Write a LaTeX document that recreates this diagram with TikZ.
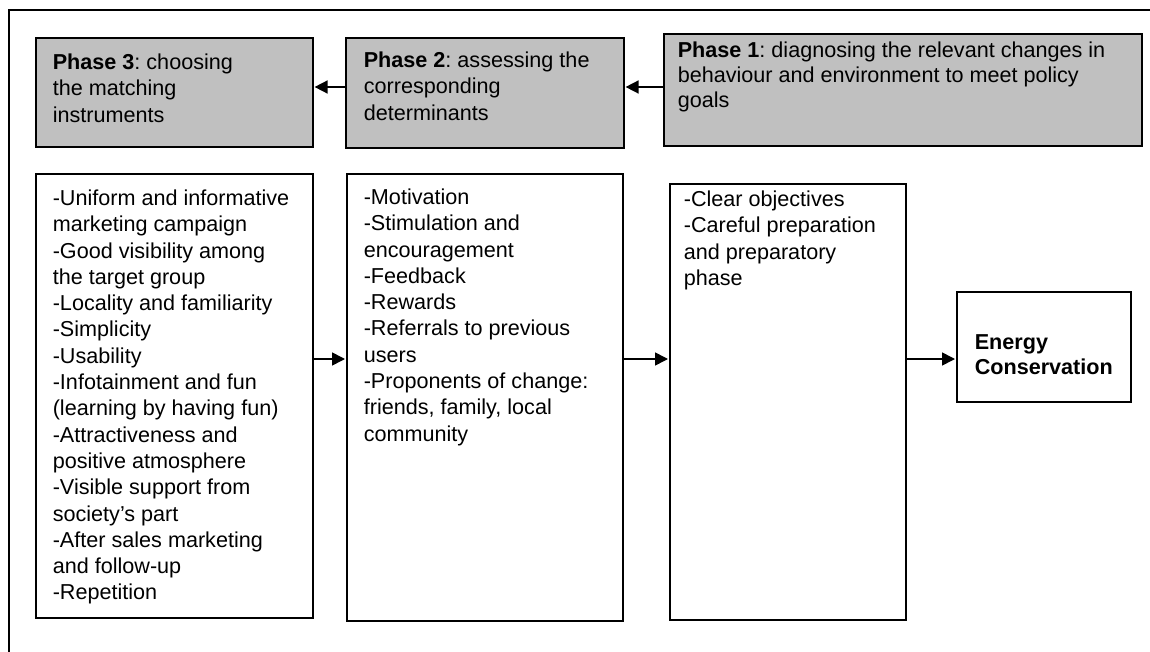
\documentclass[tikz,border=0pt]{standalone}
\usepackage{fontspec}
\setmainfont{Liberation Sans}
\usetikzlibrary{arrows.meta}
\definecolor{boxgray}{HTML}{C0C0C0}
\frenchspacing

\begin{document}
\begin{tikzpicture}[x=1pt,y=-1pt,line width=1.6pt,>={Triangle[length=13pt,width=13pt]},
		phase box/.style={draw,fill=boxgray,anchor=north west,inner sep=0pt},
		list box/.style={draw,fill=white,anchor=north west,inner sep=0pt},
		box text/.style={anchor=north west,inner sep=0pt,align=left,font=\fontsize{21.6}{26.3}\selectfont},
		flow/.style={->,shorten >=1pt}]
		
		\useasboundingbox (0,0) rectangle (1150,652);
		\draw (9,652) -- (9,10) -- (1150,10);
		
		% phases
		\node[phase box, minimum width=277pt, minimum height=109pt] (ph3) at (35,37) {};
		\node[phase box, minimum width=278pt, minimum height=110pt] (ph2) at (345,37) {};
		\node[phase box, minimum width=478pt, minimum height=112pt] (ph1) at (663,33) {};
		\node[box text] (ph3txt) at (52,53) {\textbf{Phase 3}: choosing\\the matching\\instruments};
		\node[box text] (ph2txt) at (363,51) {\textbf{Phase 2}: assessing the\\corresponding\\determinants};
		\node[box text, font=\fontsize{21.6}{25}\selectfont] (ph1txt) at (677,41) {\textbf{Phase 1}: diagnosing the relevant changes in\\behaviour and environment to meet policy\\goals};
		
		% lists
		\node[list box, minimum width=277pt, minimum height=444pt] (instr) at (35,173) {};
		\node[list box, minimum width=276pt, minimum height=447pt] (deter) at (346,173) {};
		\node[list box, minimum width=236pt, minimum height=436pt] (prep) at (669,183) {};
		\node[list box, minimum width=174pt, minimum height=110pt] (goal) at (956,291) {};
		\node[box text] (instrtxt) at (52,189) {-Uniform and informative\\marketing campaign\\-Good visibility among\\the target group\\-Locality and familiarity\\-Simplicity\\-Usability\\-Infotainment and fun\\(learning by having fun)\\-Attractiveness and\\positive atmosphere\\-Visible support from\\society's part\\-After sales marketing\\and follow-up\\-Repetition};
		\node[box text] (detertxt) at (363,188) {-Motivation\\-Stimulation and\\encouragement\\-Feedback\\-Rewards\\-Referrals to previous\\users\\-Proponents of change:\\friends, family, local\\community};
		\node[box text] (preptxt) at (683,190) {-Clear objectives\\-Careful preparation\\and preparatory\\phase};
		\node[box text, anchor=west, font=\bfseries\fontsize{21.6}{25}\selectfont] (goaltxt) at (974,355) {Energy\\Conservation};
		
		\coordinate (toprow) at (0,87);
		\coordinate (midrow) at (0,359);
		\draw[flow] (ph2.west |- toprow) -- (ph3.east |- toprow);
		\draw[flow] (ph1.west |- toprow) -- (ph2.east |- toprow);
		\draw[flow] (instr.east |- midrow) -- (deter.west |- midrow);
		\draw[flow] (deter.east |- midrow) -- (prep.west |- midrow);
		\draw[flow] (prep.east |- midrow) -- (goal.west |- midrow);
\end{tikzpicture}
\end{document}
